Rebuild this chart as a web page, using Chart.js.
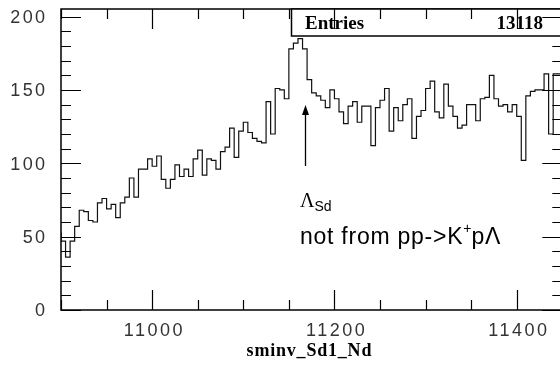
<!DOCTYPE html>
<html><head><meta charset="utf-8">
<script src="https://cdn.jsdelivr.net/npm/chart.js@4"></script>
<style>
html,body{margin:0;padding:0;background:#fff;overflow:hidden;width:560px;height:365px}
#wrap{width:566px;height:365px;position:relative}
</style></head>
<body><div id="wrap"><canvas id="c" width="566" height="365"></canvas></div>
<script>
// ---- data ----
const counts = [
  53, 47, 36, 47, 57, 68, 67, 61, 60, 73,
  76, 69, 72, 63, 73, 77, 90, 77, 96, 96,
  103, 98, 105, 89, 83, 89, 99, 91, 96, 91,
  103, 109, 92, 103, 102, 96, 108, 111, 124, 104,
  122, 128, 121, 117, 115, 114, 142, 120, 151, 150,
  144, 178, 182, 185, 178, 157, 148, 146, 143, 138,
  150, 144, 135, 127, 139, 142, 128, 139, 139, 112,
  138, 143, 151, 122, 138, 129, 140, 144, 117, 132,
  136, 151, 156, 135, 131, 154, 139, 132, 124, 126,
  140, 140, 129, 144, 145, 160, 144, 139, 140, 135,
  140, 132, 102, 146, 149, 150, 150, 161, 120, 161
];
const xRange = [10900, 11450];
const binWidth = 5;
const yRange = [0, 205.2];
const xTickLabels = [11000, 11200, 11400];
const yTickLabels = [0, 50, 100, 150, 200];
const xMinorStep = 50;
const yMinorStep = 10;
const xTitle = 'sminv_Sd1_Nd';
const statsLabel = 'Entries';
const statsValue = '13118';
const annotLambda = ['\u039B', 'Sd'];
const annotText = ['not from pp->K', '+', 'p\u039B'];
const arrowAt = 11168;

const points = counts.map((v, i) => ({x: xRange[0] + i * binWidth, y: v}));
points.push({x: xRange[1], y: counts[counts.length - 1]});

function spaced(ctx, text, x, y, sp, align) {
  ctx.letterSpacing = '0px';
  const w = ctx.measureText(text).width + sp * (text.length - 1);
  let x0 = x;
  if (align === 'center') x0 = x - w / 2;
  else if (align === 'right') x0 = x - w;
  ctx.textAlign = 'left';
  ctx.letterSpacing = sp + 'px';
  ctx.fillText(text, x0, y);
  ctx.letterSpacing = '0px';
  return x0 + w + sp;
}

const rootFrame = {
  id: 'rootFrame',
  afterDatasetsDraw(chart) {
    const ctx = chart.ctx;
    const a = chart.chartArea;
    const xs = chart.scales.x, ys = chart.scales.y;
    ctx.save();
    ctx.strokeStyle = '#000';
    ctx.lineWidth = 1.5;
    ctx.beginPath();
    ctx.rect(a.left, a.top, a.right - a.left, a.bottom - a.top);
    ctx.stroke();
    // x ticks (bottom & top, inward)
    ctx.lineWidth = 1.2;
    ctx.beginPath();
    for (let v = xRange[0]; v <= xRange[1]; v += xMinorStep) {
      const px = Math.round(xs.getPixelForValue(v)) + 0.5;
      const major = xTickLabels.includes(v);
      const len = major ? 20 : 10;
      ctx.moveTo(px, a.bottom); ctx.lineTo(px, a.bottom - len);
      ctx.moveTo(px, a.top); ctx.lineTo(px, a.top + len);
    }
    for (let v = yRange[0]; v <= yRange[1]; v += yMinorStep) {
      const py = Math.round(ys.getPixelForValue(v)) + 0.5;
      const major = yTickLabels.includes(v);
      const len = major ? 20 : 10;
      ctx.moveTo(a.left, py); ctx.lineTo(a.left + len, py);
      ctx.moveTo(a.right, py); ctx.lineTo(a.right - len, py);
    }
    ctx.stroke();

    // tick labels
    ctx.fillStyle = '#333';
    ctx.font = '18px "Liberation Sans", Arial, sans-serif';
    ctx.textBaseline = 'middle';
    yTickLabels.forEach(v => {
      spaced(ctx, String(v), 45, ys.getPixelForValue(v) + 1.5, 2.3, 'right');
    });
    xTickLabels.forEach(v => {
      spaced(ctx, String(v), xs.getPixelForValue(v) + 1, a.bottom + 21, 2.5, 'center');
    });

    // axis title
    ctx.fillStyle = '#000';
    ctx.font = 'bold 18px "Liberation Serif", "Times New Roman", serif';
    ctx.textBaseline = 'alphabetic';
    spaced(ctx, xTitle, 309, 356, 0.8, 'center');

    // stats box
    const bx = 291, by = a.top, bh = 27;
    ctx.fillStyle = '#fff';
    ctx.fillRect(bx, by, 600 - bx, bh);
    ctx.strokeStyle = '#000';
    ctx.lineWidth = 1.5;
    ctx.strokeRect(bx + 0.5, by, 600 - bx, bh);
    ctx.fillStyle = '#000';
    ctx.font = 'bold 19px "Liberation Serif", "Times New Roman", serif';
    ctx.textBaseline = 'alphabetic';
    ctx.textAlign = 'left';
    ctx.fillText(statsLabel, 305, 29);
    ctx.textAlign = 'right';
    ctx.fillText(statsValue, 543, 29);
    // redraw top-axis tick crossing the box
    ctx.lineWidth = 1.2;
    ctx.beginPath();
    for (let v = xRange[0]; v <= xRange[1]; v += xMinorStep) {
      const px = Math.round(xs.getPixelForValue(v)) + 0.5;
      if (px < bx) continue;
      const len = xTickLabels.includes(v) ? 20 : 10;
      ctx.moveTo(px, a.top); ctx.lineTo(px, a.top + len);
    }
    const p200 = Math.round(ys.getPixelForValue(200)) + 0.5;
    ctx.moveTo(a.right, p200); ctx.lineTo(a.right - 20, p200);
    ctx.stroke();

    // arrow
    const ax = Math.round(xs.getPixelForValue(arrowAt)) + 0.5;
    ctx.strokeStyle = '#000';
    ctx.lineWidth = 1.3;
    ctx.beginPath();
    ctx.moveTo(ax, 166); ctx.lineTo(ax, 113);
    ctx.stroke();
    ctx.beginPath();
    ctx.moveTo(ax, 105); ctx.lineTo(ax - 3.5, 115); ctx.lineTo(ax + 3.5, 115); ctx.closePath();
    ctx.fill();

    // annotation texts
    ctx.textAlign = 'left';
    ctx.font = '20px "Liberation Serif", "Times New Roman", serif';
    ctx.fillText(annotLambda[0], 300, 207);
    const lw = ctx.measureText(annotLambda[0]).width;
    ctx.font = '14px "Liberation Sans", Arial, sans-serif';
    ctx.fillText(annotLambda[1], 300 + lw, 211);

    ctx.font = '23px "Liberation Sans", Arial, sans-serif';
    let x = spaced(ctx, annotText[0], 300, 244, 0.75, 'left');
    ctx.font = '14px "Liberation Sans", Arial, sans-serif';
    ctx.fillText(annotText[1], x, 233);
    x += ctx.measureText(annotText[1]).width;
    ctx.font = '23px "Liberation Sans", Arial, sans-serif';
    spaced(ctx, annotText[2], x, 244, 0.75, 'left');
    ctx.restore();
  }
};

new Chart(document.getElementById('c'), {
  type: 'line',
  data: {
    datasets: [{
      data: points,
      stepped: 'after',
      borderColor: '#111',
      borderWidth: 1.2,
      pointRadius: 0,
      fill: false,
      tension: 0
    }]
  },
  options: {
    responsive: false,
    animation: false,
    events: [],
    layout: {padding: {left: 61, top: 9, right: 3.7, bottom: 55}},
    plugins: {legend: {display: false}, tooltip: {enabled: false}},
    scales: {
      x: {type: 'linear', display: false, min: xRange[0], max: xRange[1]},
      y: {type: 'linear', display: false, min: yRange[0], max: yRange[1]}
    }
  },
  plugins: [rootFrame]
});
</script>
</body></html>
